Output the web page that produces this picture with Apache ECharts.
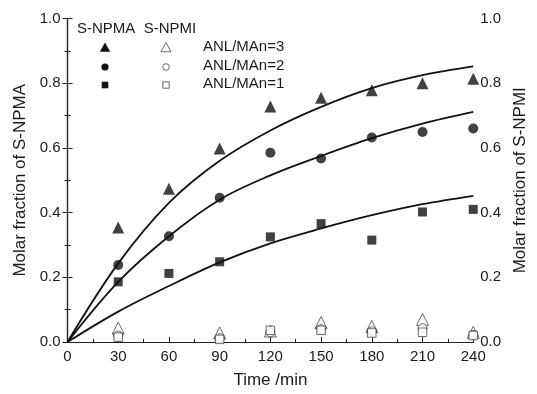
<!DOCTYPE html>
<html>
<head>
<meta charset="utf-8">
<script src="https://cdn.jsdelivr.net/npm/echarts@6/dist/echarts.min.js"></script>
<style>
  html, body { margin: 0; padding: 0; background: #fff; }
  #chart { width: 537px; height: 394px; }
</style>
</head>
<body>
<div id="chart"></div>
<script>
// Sampling times (min)
const times = [30, 60, 90, 120, 150, 180, 210, 240];
const npmiTimes = [30, 90, 120, 150, 180, 210, 240];

// Measured molar fraction of S-NPMA (filled symbols)
const npma3 = [0.354, 0.474, 0.598, 0.728, 0.755, 0.778, 0.800, 0.814];
const npma2 = [0.238, 0.327, 0.446, 0.585, 0.567, 0.632, 0.649, 0.660];
const npma1 = [0.186, 0.212, 0.248, 0.325, 0.366, 0.315, 0.402, 0.410];

// Measured molar fraction of S-NPMI (open symbols)
const npmi3 = [0.043, 0.028, 0.034, 0.060, 0.048, 0.070, 0.030];
const npmi2 = [0.020, 0.012, 0.030, 0.040, 0.033, 0.043, 0.022];
const npmi1 = [0.015, 0.008, 0.036, 0.036, 0.028, 0.030, 0.020];

// Fitted curves for S-NPMA
const fitTimes = [0, 30, 60, 90, 120, 150, 180, 210, 240];
const fit3 = [0, 0.243, 0.430, 0.560, 0.654, 0.727, 0.785, 0.825, 0.852];
const fit2 = [0, 0.186, 0.327, 0.440, 0.515, 0.575, 0.630, 0.675, 0.711];
const fit1 = [0, 0.094, 0.173, 0.246, 0.305, 0.351, 0.392, 0.426, 0.452];

// Axis ticks
const xTicks = [0, 30, 60, 90, 120, 150, 180, 210, 240];
const yTicks = [0.0, 0.2, 0.4, 0.6, 0.8, 1.0];

const ratioLabels = ['ANL/MAn=3', 'ANL/MAn=2', 'ANL/MAn=1'];
const headerText = 'S-NPMA  S-NPMI';

const FONT = '"Liberation Sans", Arial, sans-serif';
const INK = '#1a1a1a';

const pairs = (xs, ys) => xs.map((x, i) => [x, ys[i]]);

const chart = echarts.init(document.getElementById('chart'), null, { renderer: 'canvas' });

const axisLabel = { color: INK, fontFamily: FONT, fontSize: 15 };
const axisLine = { show: true, lineStyle: { color: '#222', width: 1.2 } };

function filled(name, data, symbol, size) {
  return {
    name, type: 'scatter', yAxisIndex: 0, data, symbol, symbolSize: size, z: 5,
    itemStyle: { color: '#111', borderWidth: 0 }
  };
}
function open(name, data, symbol, size) {
  return {
    name, type: 'scatter', yAxisIndex: 1, data, symbol, symbolSize: size, z: 4,
    itemStyle: { color: '#fff', borderColor: '#333', borderWidth: 0.9 }
  };
}
function curve(data) {
  return {
    type: 'line', yAxisIndex: 0, data, smooth: 0.35, showSymbol: false, symbol: 'none',
    lineStyle: { color: '#111', width: 1.8 }, z: 3, silent: true
  };
}

// Legend block drawn as graphic elements
const legX1 = 105, legX2 = 166, legText = 203;
const rowY = [48, 67, 85];
const legendGraphics = [
  { type: 'text', left: 77, top: 21, style: { text: headerText, font: '15px ' + FONT, fill: INK } }
];
function triShape(cx, cy, r) {
  return [[cx, cy - r], [cx + r * 0.95, cy + r * 0.7], [cx - r * 0.95, cy + r * 0.7]];
}
// filled column
legendGraphics.push({ type: 'polygon', shape: { points: triShape(legX1, rowY[0], 5.5) }, style: { fill: '#111' } });
legendGraphics.push({ type: 'circle', shape: { cx: legX1, cy: rowY[1], r: 3.6 }, style: { fill: '#111' } });
legendGraphics.push({ type: 'rect', shape: { x: legX1 - 3.3, y: rowY[2] - 3.3, width: 6.6, height: 6.6 }, style: { fill: '#111' } });
// open column
legendGraphics.push({ type: 'polygon', shape: { points: triShape(legX2, rowY[0], 5.3) }, style: { fill: '#fff', stroke: '#444', lineWidth: 0.8 } });
legendGraphics.push({ type: 'circle', shape: { cx: legX2, cy: rowY[1], r: 3.3 }, style: { fill: '#fff', stroke: '#444', lineWidth: 0.8 } });
legendGraphics.push({ type: 'rect', shape: { x: legX2 - 3.2, y: rowY[2] - 3.2, width: 6.4, height: 6.4 }, style: { fill: '#fff', stroke: '#444', lineWidth: 0.8 } });
ratioLabels.forEach((t, i) => {
  legendGraphics.push({
    type: 'text', left: legText, top: rowY[i] - 9,
    style: { text: t, font: '15px ' + FONT, fill: INK }
  });
});

const option = {
  backgroundColor: '#fff',
  animation: false,
  grid: { left: 67.5, right: 51, top: 18.5, bottom: 52, containLabel: false },
  xAxis: [
    {
      type: 'value', min: 0, max: 240, interval: 30, position: 'bottom',
      name: 'Time /min', nameLocation: 'middle', nameGap: 30,
      nameTextStyle: { color: INK, fontFamily: FONT, fontSize: 17 },
      axisLine, axisTick: { inside: true, length: 5, lineStyle: { color: '#222' } },
      minorTick: { show: true, splitNumber: 2, length: 3, lineStyle: { color: '#222' } },
      axisLabel: Object.assign({ margin: 7, formatter: v => xTicks.includes(v) ? String(v) : '' }, axisLabel),
      splitLine: { show: false }
    },
    {
      type: 'value', min: 0, max: 240, interval: 30, position: 'top',
      axisLine, axisTick: { show: false }, axisLabel: { show: false }, splitLine: { show: false }
    }
  ],
  yAxis: [
    {
      type: 'value', min: 0, max: 1, interval: 0.2, position: 'left',
      name: 'Molar fraction of S-NPMA', nameLocation: 'middle', nameGap: 37,
      nameTextStyle: { color: INK, fontFamily: FONT, fontSize: 17 },
      axisLine, axisTick: { inside: true, length: 5, lineStyle: { color: '#222' } },
      minorTick: { show: true, splitNumber: 2, length: 3, lineStyle: { color: '#222' } },
      axisLabel: Object.assign({ margin: 7, formatter: v => v.toFixed(1) }, axisLabel),
      splitLine: { show: false }
    },
    {
      type: 'value', min: 0, max: 1, interval: 0.2, position: 'right',
      name: 'Molar fraction of S-NPMI', nameLocation: 'middle', nameGap: 25,
      nameTextStyle: { color: INK, fontFamily: FONT, fontSize: 17 },
      axisLine, axisTick: { inside: true, length: 5, lineStyle: { color: '#222' } },
      minorTick: { show: true, splitNumber: 2, length: 3, lineStyle: { color: '#222' } },
      axisLabel: Object.assign({ margin: 7, formatter: v => v.toFixed(1) }, axisLabel),
      splitLine: { show: false }
    }
  ],
  graphic: legendGraphics,
  series: [
    curve(pairs(fitTimes, fit3)),
    curve(pairs(fitTimes, fit2)),
    curve(pairs(fitTimes, fit1)),
    open('S-NPMI 3', pairs(npmiTimes, npmi3), 'triangle', 12),
    open('S-NPMI 2', pairs(npmiTimes, npmi2), 'circle', 9),
    open('S-NPMI 1', pairs(npmiTimes, npmi1), 'rect', 8.5),
    filled('S-NPMA 3', pairs(times, npma3), 'triangle', 12),
    filled('S-NPMA 2', pairs(times, npma2), 'circle', 10),
    filled('S-NPMA 1', pairs(times, npma1), 'rect', 9)
  ]
};

chart.setOption(option);
</script>
</body>
</html>
